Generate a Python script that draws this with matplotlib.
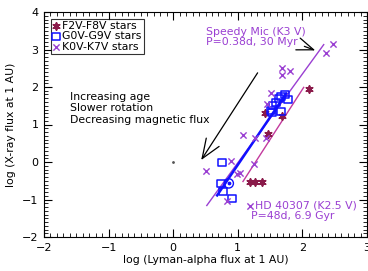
import matplotlib
matplotlib.use("Agg")
import matplotlib.pyplot as plt
from matplotlib.ticker import MultipleLocator

# ---- data ----
f_x = [2.10, 1.42, 1.68, 1.47, 1.19, 1.27, 1.37]
f_y = [1.96, 1.32, 1.24, 0.76, -0.52, -0.52, -0.52]

g_x = [1.51, 1.54, 1.59, 1.64, 1.67, 1.73, 1.78, 1.67, 1.53, 0.76, 0.74, 0.77, 0.91]
g_y = [1.37, 1.51, 1.59, 1.69, 1.75, 1.80, 1.67, 1.35, 1.32, -0.01, -0.57, -0.79, -0.97]

k_x = [2.47, 2.37, 1.68, 1.81, 1.68, 1.51, 1.45, 1.08, 1.27, 1.44, 0.89, 0.51, 0.99, 1.03, 1.25, 0.83, 1.19]
k_y = [3.16, 2.92, 2.52, 2.44, 2.33, 1.83, 1.56, 0.73, 0.63, 0.63, 0.04, -0.23, -0.31, -0.28, -0.04, -1.03, -1.16]

sun_x, sun_y = [0.86], [-0.57]
dot_x, dot_y = [0.0], [0.0]

k_fit_x, k_fit_y = [0.52, 2.33], [-1.16, 3.13]
f_fit_x, f_fit_y = [1.08, 2.02], [-0.52, 1.99]
g_fit_x, g_fit_y = [0.68, 1.75], [-0.89, 1.83]

trend_start, trend_end = (1.33, 2.44), (0.41, -0.01)
speedy_start, speedy_end = (1.99, 3.11), (2.24, 2.95)

legend_labels = ["F2V-F8V stars", "G0V-G9V stars", "K0V-K7V stars"]
trend_text = ["Increasing age", "Slower rotation", "Decreasing magnetic flux"]

c_f = "#8a1a4a"
c_g = "#1010ff"
c_k = "#9a3fd2"
c_fline = "#c33a9e"

plt.rcParams['font.family'] = ['DejaVu Sans']
fig = plt.figure(figsize=(3.68, 2.71), dpi=100)
ax = fig.add_axes([44/368, 1-237/271, 323/368, 225/271])

ax.plot(k_fit_x, k_fit_y, color=c_k, lw=1.0, zorder=2)
ax.plot(f_fit_x, f_fit_y, color=c_fline, lw=1.0, zorder=2)
ax.plot(g_fit_x, g_fit_y, color=c_g, lw=1.8, zorder=2)

ax.scatter(f_x, f_y, marker=(6, 2, 0), s=24, color=c_f, lw=1.3, zorder=3, label=legend_labels[0])
ax.scatter(g_x, g_y, marker='s', s=30, facecolors='none', edgecolors=c_g, lw=1.1, zorder=3, label=legend_labels[1])
ax.scatter(k_x, k_y, marker='x', s=20, color=c_k, lw=1.0, zorder=3, label=legend_labels[2])
ax.scatter(sun_x, sun_y, marker='o', s=45, facecolors='none', edgecolors=c_g, lw=1.0, zorder=3)
ax.scatter(sun_x, sun_y, marker='o', s=3, color=c_g, zorder=3)
ax.scatter(dot_x, dot_y, marker='o', s=1, color='#555555', zorder=3)

ax.annotate("", xy=trend_end, xytext=trend_start,
            arrowprops=dict(arrowstyle='->,head_length=1.4,head_width=0.55', color='black', lw=0.9))
ax.annotate("", xy=speedy_end, xytext=speedy_start,
            arrowprops=dict(arrowstyle='->,head_length=1.2,head_width=0.45', color='black', lw=0.9))

for i, t in enumerate(trend_text):
    ax.text(-1.6, 1.73 - 0.3*i, t, fontsize=7.8, va='center', ha='left', color='black')

ax.text(0.51, 3.47, "Speedy Mic (K3 V)", fontsize=7.8, color=c_k, va='center', ha='left')
ax.text(0.51, 3.21, "P=0.38d, 30 Myr", fontsize=7.8, color=c_k, va='center', ha='left')
ax.text(1.26, -1.16, "HD 40307 (K2.5 V)", fontsize=7.8, color=c_k, va='center', ha='left')
ax.text(1.21, -1.45, "P=48d, 6.9 Gyr", fontsize=7.8, color=c_k, va='center', ha='left')

ax.set_xlim(-2, 3)
ax.set_ylim(-2, 4)
ax.xaxis.set_major_locator(MultipleLocator(1))
ax.xaxis.set_minor_locator(MultipleLocator(0.1))
ax.yaxis.set_major_locator(MultipleLocator(1))
ax.yaxis.set_minor_locator(MultipleLocator(0.1))
ax.tick_params(which='both', direction='in', top=True, right=True, labelsize=8, pad=4)
ax.tick_params(which='major', length=6, width=0.8)
ax.tick_params(which='minor', length=3, width=0.6)

ax.set_xlabel("log (Lyman-alpha flux at 1 AU)", fontsize=7.8, labelpad=2)
ax.set_ylabel("log (X-ray flux at 1 AU)", fontsize=7.8, labelpad=4)

leg = ax.legend(loc='upper left', fontsize=7.8, frameon=True, fancybox=False,
                edgecolor='black', handlelength=0.6, handletextpad=0.3,
                borderpad=0.2, labelspacing=0.05, borderaxespad=0.6, markerscale=1.0)
leg.get_frame().set_linewidth(0.8)

fig.savefig("out.png", dpi=100)
